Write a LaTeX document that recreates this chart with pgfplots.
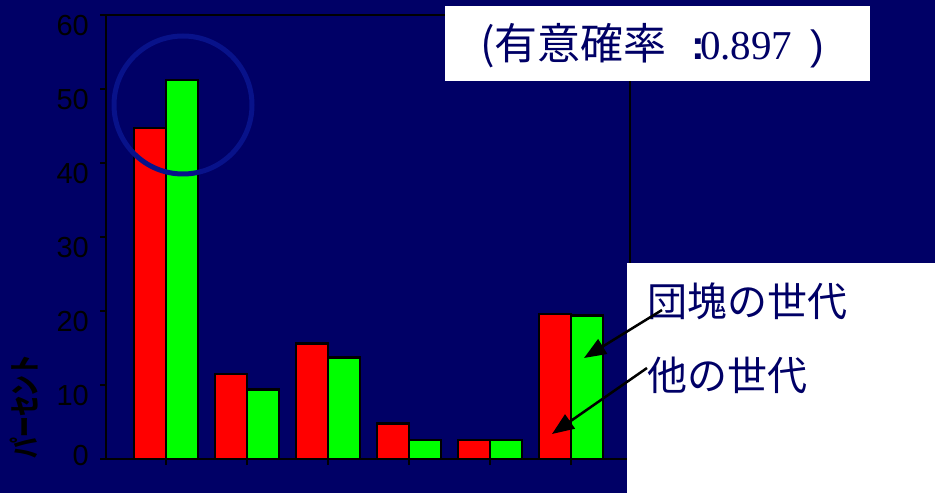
\documentclass[border=0pt]{standalone}
\usepackage{fontspec}
\setmainfont{Liberation Sans}
\newfontfamily\cjk{Noto Sans CJK JP}
\newfontfamily\serifnum{Liberation Serif}
\usepackage{pgfplots}
\pgfplotsset{compat=1.18}
\usetikzlibrary{arrows.meta}
\definecolor{bg}{RGB}{0,0,102}
\definecolor{ring}{RGB}{8,18,138}
\definecolor{navytext}{RGB}{0,0,102}
\begin{document}
\begin{tikzpicture}[x=1pt,y=1pt]
\path[use as bounding box, fill=bg] (0,0) rectangle (935,493);
\begin{axis}[
  at={(106pt,34pt)}, anchor=south west,
  scale only axis, width=524pt, height=444pt,
  xmin=-0.741, xmax=5.728, ymin=0, ymax=60,
  ytick={0,10,...,60},
  yticklabels={\raisebox{14pt}[\height][0pt]{0},10,20,30,40,50,60},
  xtick={0,...,5}, xticklabels={},
  tick align=outside, xtick pos=bottom, ytick pos=left,
  major tick length=6pt,
  axis line style={black, line width=2pt},
  every tick/.style={black, line width=2pt},
  ybar=0pt, bar width=32pt,
  /pgf/number format/assume math mode=true,
  yticklabel style={font=\fontsize{29}{31}\selectfont, text=black, anchor=north east, inner sep=0pt, xshift=-11pt, yshift=0pt},
  ylabel={\fontsize{31}{33}\selectfont\scalebox{0.67}[1]{\cjk\bfseries パーセント}},
  every axis y label/.style={at={(axis description cs:-0.1565,0.118)}, rotate=90, anchor=center, text=black, inner sep=0pt},
]
\addplot[fill=red, draw=black, line width=2.5pt] coordinates {(0,44.7) (1,11.5) (2,15.6) (3,4.8) (4,2.6) (5,19.6)};
\addplot[fill=green, draw=black, line width=2.5pt] coordinates {(0,51.2) (1,9.4) (2,13.7) (3,2.6) (4,2.6) (5,19.4)};
\end{axis}
\draw[ring, line width=5pt] (183,388) circle (69);
\fill[white] (445,412) rectangle (870,487);
\fill[white] (627,0) rectangle (935,230);
\node[anchor=base west, inner sep=0pt, text=navytext] at (480,433) {\fontsize{43}{46}\selectfont\cjk (有意確率};
\node[anchor=base west, inner sep=0pt, text=navytext] at (691,433) {\fontsize{41}{44}\selectfont\bfseries :};
\node[anchor=base west, inner sep=0pt, text=navytext] at (700,433) {\fontsize{41}{44}\selectfont\serifnum 0.897};
\node[anchor=base west, inner sep=0pt, text=navytext] at (810,433) {\fontsize{41}{44}\selectfont )};
\node[anchor=base west, inner sep=0pt, text=navytext] at (647,176) {\fontsize{40}{44}\selectfont\cjk 団塊の世代};
\node[anchor=base west, inner sep=0pt, text=navytext] at (647,102) {\fontsize{40}{44}\selectfont\cjk 他の世代};
\draw[black, line width=2.5pt, -{Triangle[length=22pt, width=17pt]}] (662,183) -- (584,135);
\draw[black, line width=2.5pt, -{Triangle[length=22pt, width=17pt]}] (647,125) -- (552,59);
\end{tikzpicture}
\end{document}
